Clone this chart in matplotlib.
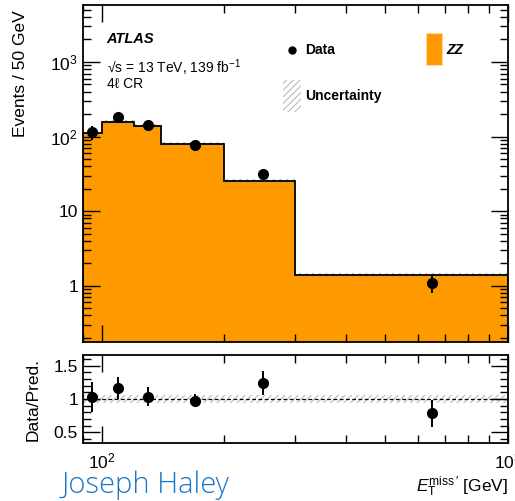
import numpy as np
import matplotlib.pyplot as plt
from matplotlib.patches import Rectangle
from matplotlib.ticker import LogLocator, FixedLocator, NullFormatter, MultipleLocator

plt.rcParams['font.family'] = ['Liberation Sans', 'DejaVu Sans']
plt.rcParams['mathtext.fontset'] = 'custom'
plt.rcParams['mathtext.rm'] = 'Liberation Sans'
plt.rcParams['mathtext.it'] = 'Liberation Sans:italic'
plt.rcParams['hatch.linewidth'] = 0.8

# binning in E_T^miss' [GeV]
bin_edges = [90, 100, 120, 140, 200, 300, 1000]
bin_centers = [95, 110, 130, 170, 250, 650]
# ZZ prediction, events / 50 GeV
zz_pred = [112, 157, 138, 79, 25.3, 1.38]
# data, events / 50 GeV
data_vals = [115, 183, 143, 77, 31.5, 1.08]
data_err = [25, 25, 19, 8, 4.5, 0.29]
unc_frac = 0.06

orange = '#ff9900'

fig = plt.figure(figsize=(5.15, 5.01), dpi=100)
ax = fig.add_axes([0.161, 0.317, 0.825, 0.673])
rax = fig.add_axes([0.161, 0.116, 0.825, 0.175])

edges = np.array(bin_edges, dtype=float)
pred = np.array(zz_pred)
data = np.array(data_vals)
derr = np.array(data_err)

# main panel
ax.stairs(pred, edges, fill=True, color=orange, zorder=1)
ax.stairs(pred, edges, color='black', lw=1.3, zorder=3)
ax.stairs(pred * (1 + unc_frac), edges, baseline=pred * (1 - unc_frac), fill=True,
          facecolor='none', edgecolor='#aaaaaa', hatch='/////', lw=0, zorder=2)
ax.errorbar(bin_centers, data, yerr=derr, fmt='o', color='black', ms=7,
            elinewidth=1.4, capsize=0, zorder=4)

ax.set_xscale('log')
ax.set_yscale('log')
ax.set_xlim(90, 1000)
ax.set_ylim(0.175, 5800)
ax.yaxis.set_major_locator(FixedLocator([1, 10, 100, 1000]))
ax.set_yticklabels(['1', '10', r'$10^2$', r'$10^3$'])
ax.yaxis.set_minor_locator(LogLocator(base=10, subs=np.arange(2, 10), numticks=20))
ax.yaxis.set_minor_formatter(NullFormatter())
ax.set_ylabel('Events / 50 GeV', fontsize=12.5)
ax.yaxis.set_label_coords(-0.129, 0.797)

# ratio panel
ratio = data / pred
rerr = derr / pred
rax.fill_between([90, 1000], 1 - unc_frac, 1 + unc_frac, facecolor='none',
                 edgecolor='#bbbbbb', hatch='/////', lw=0)
rax.axhline(1, color='black', ls=(0, (3, 2)), lw=0.9)
rax.errorbar(bin_centers, ratio, yerr=rerr, fmt='o', color='black', ms=7,
             elinewidth=1.4, capsize=0, zorder=4)
rax.set_xscale('log')
rax.set_xlim(90, 1000)
rax.set_ylim(0.34, 1.66)
rax.yaxis.set_major_locator(FixedLocator([0.5, 1, 1.5]))
rax.set_yticklabels(['0.5', '1', '1.5'])
rax.yaxis.set_minor_locator(MultipleLocator(0.1))
rax.set_ylabel('Data/Pred.', fontsize=12.5)
rax.yaxis.set_label_coords(-0.10, 0.5)
rax.xaxis.set_major_locator(FixedLocator([100, 1000]))
rax.set_xticklabels([r'$10^2$', r'$10^3$'])
rax.xaxis.set_minor_locator(LogLocator(base=10, subs=np.arange(2, 10), numticks=20))
rax.xaxis.set_minor_formatter(NullFormatter())

for a in (ax, rax):
    a.tick_params(which='both', direction='in', top=True, right=True, labelsize=12.5)
    a.tick_params(which='major', length=12, width=1)
    a.tick_params(which='minor', length=6, width=1)
    for s in a.spines.values():
        s.set_linewidth(1.3)
ax.tick_params(axis='x', labelbottom=False)
rax.tick_params(axis='x', pad=6)

# text
tr = ax.transAxes
ax.text(0.056, 0.899, 'ATLAS', transform=tr, fontsize=10.5, fontweight='bold',
        style='italic', va='center')
ax.text(0.056, 0.815, '√s = 13 TeV, 139 fb$^{-1}$', transform=tr,
        fontsize=10, va='center')
ax.text(0.056, 0.767, '4ℓ CR', transform=tr, fontsize=10, va='center')

# legend
ax.plot([0.492], [0.866], 'o', color='black', ms=5, transform=tr)
ax.text(0.522, 0.866, 'Data', transform=tr, fontsize=10, fontweight='bold', va='center')
ax.add_patch(Rectangle((0.471, 0.682), 0.042, 0.095, transform=tr, facecolor='none',
                       edgecolor='#bbbbbb', hatch='/////', lw=0))
ax.text(0.522, 0.730, 'Uncertainty', transform=tr, fontsize=10, fontweight='bold',
        va='center')
ax.add_patch(Rectangle((0.807, 0.822), 0.038, 0.095, transform=tr, facecolor=orange,
                       edgecolor='#ffd9a0', lw=0.8))
ax.text(0.856, 0.866, 'ZZ', transform=tr, fontsize=10, fontweight='bold',
        style='italic', va='center')

fig.text(0.986, 0.028, r"$E_{\mathrm{T}}^{\mathrm{miss}\,\prime}$ [GeV]", fontsize=12.5,
         ha='right', va='center')
fig.text(0.120, 0.002, 'Joseph Haley', fontsize=21, color='#1a78c8',
         family=['Open Sans', 'DejaVu Sans'], fontweight='light', va='bottom')

fig.savefig('out.png', dpi=100)
